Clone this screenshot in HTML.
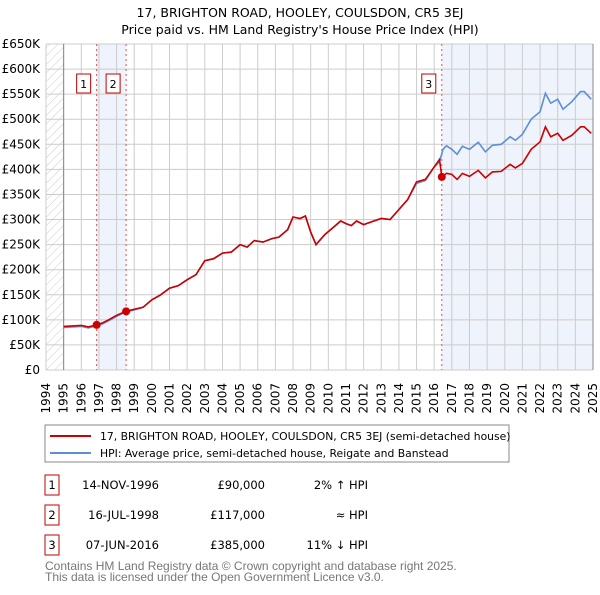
<!DOCTYPE html>
<html><head><meta charset="utf-8"><style>
body{margin:0;background:#fff;font-family:"Liberation Sans","DejaVu Sans",sans-serif;}
svg text{font-family:"DejaVu Sans","Liberation Sans",sans-serif;}
svg text.foot{font-family:"Liberation Sans","DejaVu Sans",sans-serif;}
</style></head><body>
<svg id="c" width="600" height="590" xmlns="http://www.w3.org/2000/svg">
<defs><pattern id="hatch" width="6" height="6" patternUnits="userSpaceOnUse" patternTransform="rotate(45)"><line x1="0" y1="0" x2="0" y2="6" stroke="#ccc" stroke-width="1"/></pattern></defs>
<text x="300" y="17" text-anchor="middle" font-size="12.5">17, BRIGHTON ROAD, HOOLEY, COULSDON, CR5 3EJ</text>
<text x="300" y="34" text-anchor="middle" font-size="12.5">Price paid vs. HM Land Registry's House Price Index (HPI)</text>
<g id="plot"></g>
<g>
<rect x="45" y="425" width="464" height="37" fill="#fff" stroke="#888"/>
<line x1="50" y1="436" x2="91" y2="436" stroke="#cc0000" stroke-width="2"/>
<text x="100" y="440" font-size="10.8">17, BRIGHTON ROAD, HOOLEY, COULSDON, CR5 3EJ (semi-detached house)</text>
<line x1="50" y1="453" x2="91" y2="453" stroke="#5b8fd6" stroke-width="2"/>
<text x="100" y="457" font-size="10.8">HPI: Average price, semi-detached house, Reigate and Banstead</text>
</g>
<g id="table" font-size="11.5"></g>
<text class="foot" x="45" y="570" font-size="12" fill="#777">Contains HM Land Registry data © Crown copyright and database right 2025.</text>
<text class="foot" x="45" y="581" font-size="12" fill="#777">This data is licensed under the Open Government Licence v3.0.</text>
</svg>
<script>
const hpiYears=[1995.0,1995.5,1996.0,1996.4,1996.87,1997.2,1997.6,1998.0,1998.54,1999.0,1999.5,2000.0,2000.5,2001.0,2001.5,2002.0,2002.5,2003.0,2003.5,2004.0,2004.5,2005.0,2005.4,2005.8,2006.3,2006.8,2007.2,2007.7,2008.0,2008.4,2008.7,2009.0,2009.3,2009.8,2010.3,2010.7,2011.0,2011.3,2011.6,2012.0,2012.5,2013.0,2013.5,2014.0,2014.5,2015.0,2015.5,2016.0,2016.3,2016.5,2016.7,2017.0,2017.3,2017.6,2018.0,2018.5,2018.9,2019.3,2019.8,2020.3,2020.6,2021.0,2021.5,2022.0,2022.3,2022.6,2023.0,2023.3,2023.8,2024.3,2024.5,2024.9];
const hpiValues=[85,86,87,84,88,92,99,107,116,120,125,140,150,163,168,180,190,218,222,233,235,250,245,258,255,262,265,280,305,302,307,275,250,270,285,297,292,288,297,290,296,302,300,320,340,372,378,405,415,440,447,440,430,446,440,454,435,448,450,465,458,470,500,515,552,532,540,520,535,555,555,540];
const redYears=[1995.0,1995.5,1996.0,1996.4,1996.87,1997.2,1997.6,1998.0,1998.54,1999.0,1999.5,2000.0,2000.5,2001.0,2001.5,2002.0,2002.5,2003.0,2003.5,2004.0,2004.5,2005.0,2005.4,2005.8,2006.3,2006.8,2007.2,2007.7,2008.0,2008.4,2008.7,2009.0,2009.3,2009.8,2010.3,2010.7,2011.0,2011.3,2011.6,2012.0,2012.5,2013.0,2013.5,2014.0,2014.5,2015.0,2015.5,2016.0,2016.3,2016.43,2016.7,2017.0,2017.3,2017.6,2018.0,2018.5,2018.9,2019.3,2019.8,2020.3,2020.6,2021.0,2021.5,2022.0,2022.3,2022.6,2023.0,2023.3,2023.8,2024.3,2024.5,2024.9];
const redValues=[87,88,89,86,90,94,101,109,117,121,125,140,150,163,168,180,190,218,222,233,235,250,245,258,255,262,265,280,305,302,307,275,250,270,285,297,292,288,297,290,296,302,300,320,340,375,380,405,420,385,392,390,380,392,386,398,383,395,396,410,403,412,440,455,485,465,472,458,468,485,485,472];
const saleYears=[1996.87,1998.54,2016.43];
const saleValues=[90,117,385];
const saleLabels=["1","2","3"];
const saleDates=["14-NOV-1996","16-JUL-1998","07-JUN-2016"];
const salePrices=["£90,000","£117,000","£385,000"];
const saleHpi=["2% ↑ HPI","≈ HPI","11% ↓ HPI"];
const yTicks=[0,50,100,150,200,250,300,350,400,450,500,550,600,650];
const yTickLabels=["£0","£50K","£100K","£150K","£200K","£250K","£300K","£350K","£400K","£450K","£500K","£550K","£600K","£650K"];
const xTicks=[1994,1995,1996,1997,1998,1999,2000,2001,2002,2003,2004,2005,2006,2007,2008,2009,2010,2011,2012,2013,2014,2015,2016,2017,2018,2019,2020,2021,2022,2023,2024,2025];

const X0=46,X1=593,Y0=370,Y1=44;
const x=y=>X0+(y-1994)/(2025-1994)*(X1-X0);
const yv=v=>Y0-v/650*(Y0-Y1);
const NS="http://www.w3.org/2000/svg";
const plot=document.getElementById('plot');
function mk(tag,attrs,parent){const e=document.createElementNS(NS,tag);for(const k in attrs)e.setAttribute(k,attrs[k]);(parent||plot).appendChild(e);return e;}
let s1=mk('rect',{x:x(saleYears[0]),y:Y1,width:x(saleYears[1])-x(saleYears[0]),height:Y0-Y1,fill:'#eef3fc'});


let s2=mk('rect',{x:x(saleYears[2]),y:Y1,width:X1-x(saleYears[2]),height:Y0-Y1,fill:'#eef3fc'});


let h=mk('rect',{x:X0,y:Y1,width:x(1995)-X0,height:Y0-Y1,fill:'url(#hatch)'});


xTicks.forEach(t=>{let l=mk('line',{x1:x(t),x2:x(t),y1:Y1,y2:Y0,stroke:'#ccc','stroke-width':1});


let tx=mk('text',{x:0,y:0,'font-size':12,'text-anchor':'end',transform:`translate(${x(t)+4},383) rotate(-90)`});tx.textContent=t;

});
yTicks.forEach((t,i)=>{let l=mk('line',{x1:X0,x2:X1,y1:yv(t),y2:yv(t),stroke:'#ccc','stroke-width':1});


let tx=mk('text',{x:40,y:yv(t)+4,'font-size':12,'text-anchor':'end'});tx.textContent=yTickLabels[i];

});
let ax=mk('line',{x1:x(1995),x2:x(1995),y1:Y1,y2:Y0,stroke:'#888'});


let ax2=mk('line',{x1:X1,x2:X1,y1:Y1,y2:Y0,stroke:'#888'});


saleYears.forEach((s,i)=>{let l=mk('line',{x1:x(s),x2:x(s),y1:Y1,y2:Y0,stroke:'#e05050','stroke-dasharray':'2,3'});


let g=mk('g',{});


mk('rect',{x:x(s)-20,y:74,width:14,height:19,fill:'#fff',stroke:'#c00000'},g);
let t=mk('text',{x:x(s)-13,y:88,'font-size':11,'text-anchor':'middle'},g);t.textContent=saleLabels[i];});
const pts=(xs,vs)=>xs.map((t,i)=>x(t).toFixed(1)+','+yv(vs[i]).toFixed(1)).join(' ');
let hp=mk('polyline',{points:pts(hpiYears,hpiValues),fill:'none',stroke:'#5b8fd6','stroke-width':1.6});


let rp=mk('polyline',{points:pts(redYears,redValues),fill:'none',stroke:'#cc0000','stroke-width':1.6});


saleYears.forEach((s,i)=>{let c=mk('circle',{cx:x(s),cy:yv(saleValues[i]),r:4,fill:'#cc0000'});

});
const tb=document.getElementById('table');
saleLabels.forEach((lab,i)=>{const yy=485+i*30;
let g=mk('g',{},tb);


mk('rect',{x:45,y:yy-10,width:14,height:20,fill:'#fff',stroke:'#c00000'},g);
let t=mk('text',{x:52,y:yy+4,'text-anchor':'middle'},g);t.textContent=lab;
t=mk('text',{x:159,y:yy+4,'text-anchor':'end'},g);t.textContent=saleDates[i];
t=mk('text',{x:265,y:yy+4,'text-anchor':'end'},g);t.textContent=salePrices[i];
t=mk('text',{x:368,y:yy+4,'text-anchor':'end'},g);t.textContent=saleHpi[i];});
</script>
</body></html>
